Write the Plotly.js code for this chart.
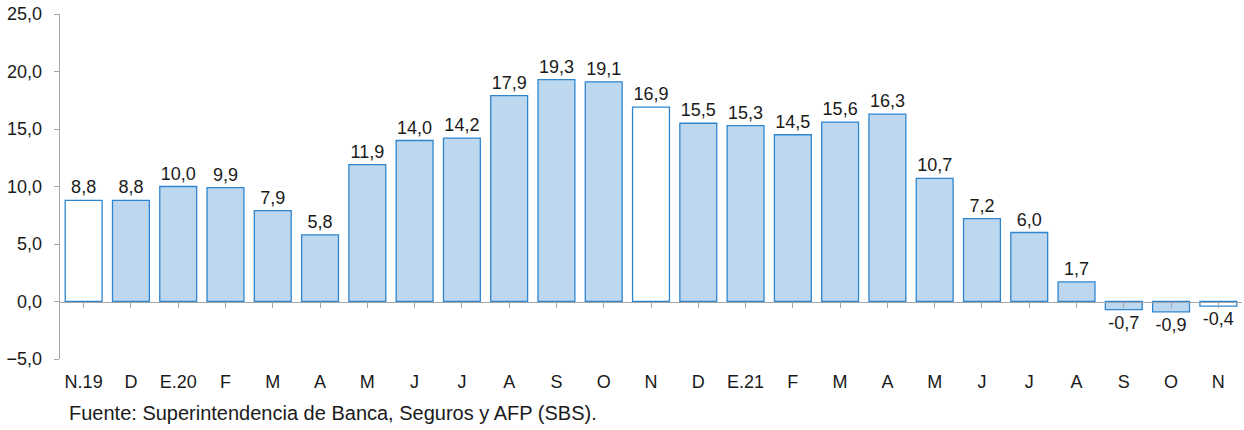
<!DOCTYPE html>
<html><head><meta charset="utf-8">
<script src="https://cdn.plot.ly/plotly-3.0.1.min.js"></script>
<style>html,body{margin:0;padding:0;background:#fff}</style>
</head><body>
<div id="chart" style="width:1244px;height:430px"></div>
<script>
const categories = ["N.19","D","E.20","F","M","A","M","J","J","A","S","O","N","D","E.21","F","M","A","M","J","J","A","S","O","N"];
const values = [8.8,8.8,10.0,9.9,7.9,5.8,11.9,14.0,14.2,17.9,19.3,19.1,16.9,15.5,15.3,14.5,15.6,16.3,10.7,7.2,6.0,1.7,-0.7,-0.9,-0.4];
const whiteMonths = ["N.19", "N"];
const source = "Fuente: Superintendencia de Banca, Seguros y AFP (SBS).";

const idx = categories.map((c, i) => i);
const fills = categories.map(c => whiteMonths.includes(c) ? "#ffffff" : "#bdd7ee");

const fontFam = "'Liberation Sans', Arial, sans-serif";
const FS = 18;
const traces = [
  {
    type: "bar", x: idx, y: values,
    marker: {color: fills, line: {color: "#2e86d1", width: 1.3}},
    width: 0.78,
    text: values.map(v => v.toFixed(1).replace(".", ",")),
    textposition: "outside", cliponaxis: false,
    textfont: {family: fontFam, size: FS, color: "#1a1a1a"},
    hoverinfo: "skip", showlegend: false
  },
  {
    type: "scatter", mode: "none", x: idx, y: values, xaxis: "x2", yaxis: "y",
    hoverinfo: "skip", showlegend: false
  }
];

const layout = {
  width: 1244, height: 430,
  margin: {l: 60, r: 2, t: 14, b: 71},
  paper_bgcolor: "#fff", plot_bgcolor: "#fff",
  separators: ",.",
  font: {family: fontFam, size: FS, color: "#1a1a1a"},
  bargap: 0.22,
  xaxis: {
    range: [-0.5, categories.length - 0.5],
    tickvals: idx, ticktext: categories,
    showline: false, showgrid: false, zeroline: false, ticks: "",
    ticklabelstandoff: 10,
    tickfont: {family: fontFam, size: FS, color: "#1a1a1a"},
    fixedrange: true
  },
  xaxis2: {
    overlaying: "x", matches: "x", anchor: "free", position: 1/6,
    range: [-0.5, categories.length - 0.5],
    tickvals: idx, showticklabels: false,
    tickson: "boundaries", ticks: "outside", ticklen: 5, tickcolor: "#a6a6a6", tickwidth: 1,
    showline: true, linecolor: "#a6a6a6", linewidth: 1.3,
    showgrid: false, zeroline: false
  },
  yaxis: {
    range: [-5, 25], dtick: 5, tick0: 0, tickformat: ".1f",
    showline: true, linecolor: "#a6a6a6", linewidth: 1.3,
    ticks: "outside", ticklen: 5, tickcolor: "#a6a6a6",
    showgrid: false, zeroline: false,
    ticklabelstandoff: 8,
    tickfont: {family: fontFam, size: FS, color: "#1a1a1a"}
  },
  annotations: [{
    text: source, xref: "paper", yref: "paper", x: 0.006, y: -0.1565,
    xanchor: "left", yanchor: "middle", showarrow: false,
    font: {family: fontFam, size: 20, color: "#1a1a1a"}
  }]
};

Plotly.newPlot("chart", traces, layout, {staticPlot: true, displayModeBar: false});
</script>
</body></html>
